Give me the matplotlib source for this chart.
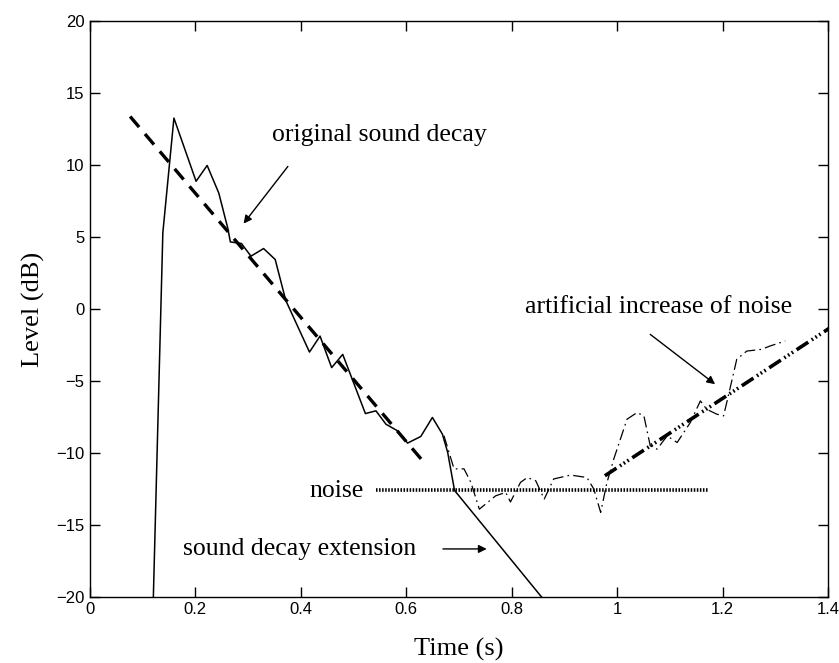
import numpy as np
import matplotlib
matplotlib.use('Agg')
import matplotlib.pyplot as plt

plt.rcParams['lines.scale_dashes'] = False

# gemessener Abklingverlauf (durchgezogen)
decay_t = [0.121, 0.139, 0.160, 0.202, 0.223, 0.245, 0.262, 0.267, 0.288, 0.306,
           0.330, 0.352, 0.372, 0.417, 0.437, 0.459, 0.480, 0.523, 0.543, 0.562,
           0.584, 0.603, 0.628, 0.650, 0.669, 0.679, 0.692, 0.857]
decay_L = [-20.0, 5.3, 13.26, 8.87, 9.97, 8.06, 5.63, 4.66, 4.55, 3.67,
           4.2, 3.44, 0.6, -2.99, -1.88, -4.07, -3.15, -7.26, -7.07, -8.0,
           -8.46, -9.31, -8.85, -7.53, -8.69, -9.96, -12.6, -20.0]

# Regressionsgerade (gestrichelt)
fit_t = [0.077, 0.638]
fit_L = [13.37, -10.82]

# Rauschpegel (gepunktet)
noise_t = [0.544, 1.174]
noise_L = [-12.6, -12.6]

# Verlauf mit Rauschen (strichpunktiert, duenn)
noisy_t = [0.672, 0.691, 0.710, 0.723, 0.739, 0.770, 0.789, 0.798, 0.817, 0.830,
           0.846, 0.862, 0.880, 0.912, 0.943, 0.956, 0.969, 0.981, 0.994, 1.019,
           1.038, 1.051, 1.063, 1.076, 1.095, 1.114, 1.139, 1.158, 1.170, 1.189,
           1.202, 1.211, 1.227, 1.246, 1.274, 1.290, 1.319]
noisy_L = [-8.8, -11.1, -11.1, -12.04, -13.9, -12.97, -12.73, -13.4, -12.04, -11.7,
           -11.93, -13.2, -11.8, -11.53, -11.7, -12.5, -14.12, -12.04, -10.4, -7.65,
           -7.19, -7.42, -9.5, -9.73, -8.81, -9.27, -7.88, -6.38, -6.96, -7.3,
           -7.42, -6.03, -3.49, -2.92, -2.8, -2.57, -2.22]

# kuenstlicher Rauschanstieg (dick, Strich-Punkt-Punkt)
rise_t = [0.977, 1.404]
rise_L = [-11.58, -1.3]

serif = ['Liberation Serif', 'DejaVu Serif']
sans = ['Liberation Sans', 'DejaVu Sans']

fig = plt.figure(figsize=(8.39, 6.63), dpi=100)
ax = fig.add_axes([0.1067, 0.0995, 0.8802, 0.8688])

ax.plot(decay_t, decay_L, color='black', lw=1.1)
ax.plot(noisy_t, noisy_L, color='black', lw=0.9, dashes=(8, 3, 1.2, 3))
ax.plot(fit_t, fit_L, color='black', lw=2.4, dashes=(10, 6.5))
ax.plot(noise_t, noise_L, color='black', lw=2.6, dashes=(1.1, 1.1))
ax.plot(rise_t, rise_L, color='black', lw=2.6, dashes=(10, 3, 1.2, 2, 1.2, 2, 1.2, 3))

ax.set_xlim(0, 1.4)
ax.set_ylim(-20, 20)
ax.set_xticks([0, 0.2, 0.4, 0.6, 0.8, 1.0, 1.2, 1.4])
ax.set_xticklabels(['0', '0.2', '0.4', '0.6', '0.8', '1', '1.2', '1.4'])
ax.set_yticks(np.arange(-20, 21, 5))
ax.tick_params(direction='in', top=True, right=True, length=7, width=1, labelsize=12)
for lab in ax.get_xticklabels() + ax.get_yticklabels():
    lab.set_family(sans)
for sp in ax.spines.values():
    sp.set_linewidth(1.0)

ax.set_xlabel('Time (s)', fontsize=19, family=serif, labelpad=15)
ax.set_ylabel('Level (dB)', fontsize=19, family=serif, labelpad=8)

tfs = 18.5
ax.text(0.345, 12.1, 'original sound decay', fontsize=tfs, family=serif, va='center', ha='left')
ax.text(0.520, -12.64, 'noise', fontsize=tfs, family=serif, va='center', ha='right')
ax.text(0.177, -16.66, 'sound decay extension', fontsize=tfs, family=serif, va='center', ha='left')
ax.text(0.826, 0.11, 'artificial increase of noise', fontsize=tfs, family=serif, va='center', ha='left')

arrow = dict(arrowstyle='-|>', color='black', lw=1.0, mutation_scale=12, shrinkA=0, shrinkB=0)
ax.annotate('', xy=(0.292, 5.93), xytext=(0.376, 9.9), arrowprops=arrow)
ax.annotate('', xy=(0.753, -16.66), xytext=(0.670, -16.66), arrowprops=arrow)
ax.annotate('', xy=(1.186, -5.22), xytext=(1.063, -1.76), arrowprops=arrow)

fig.savefig('out.png', dpi=100)
